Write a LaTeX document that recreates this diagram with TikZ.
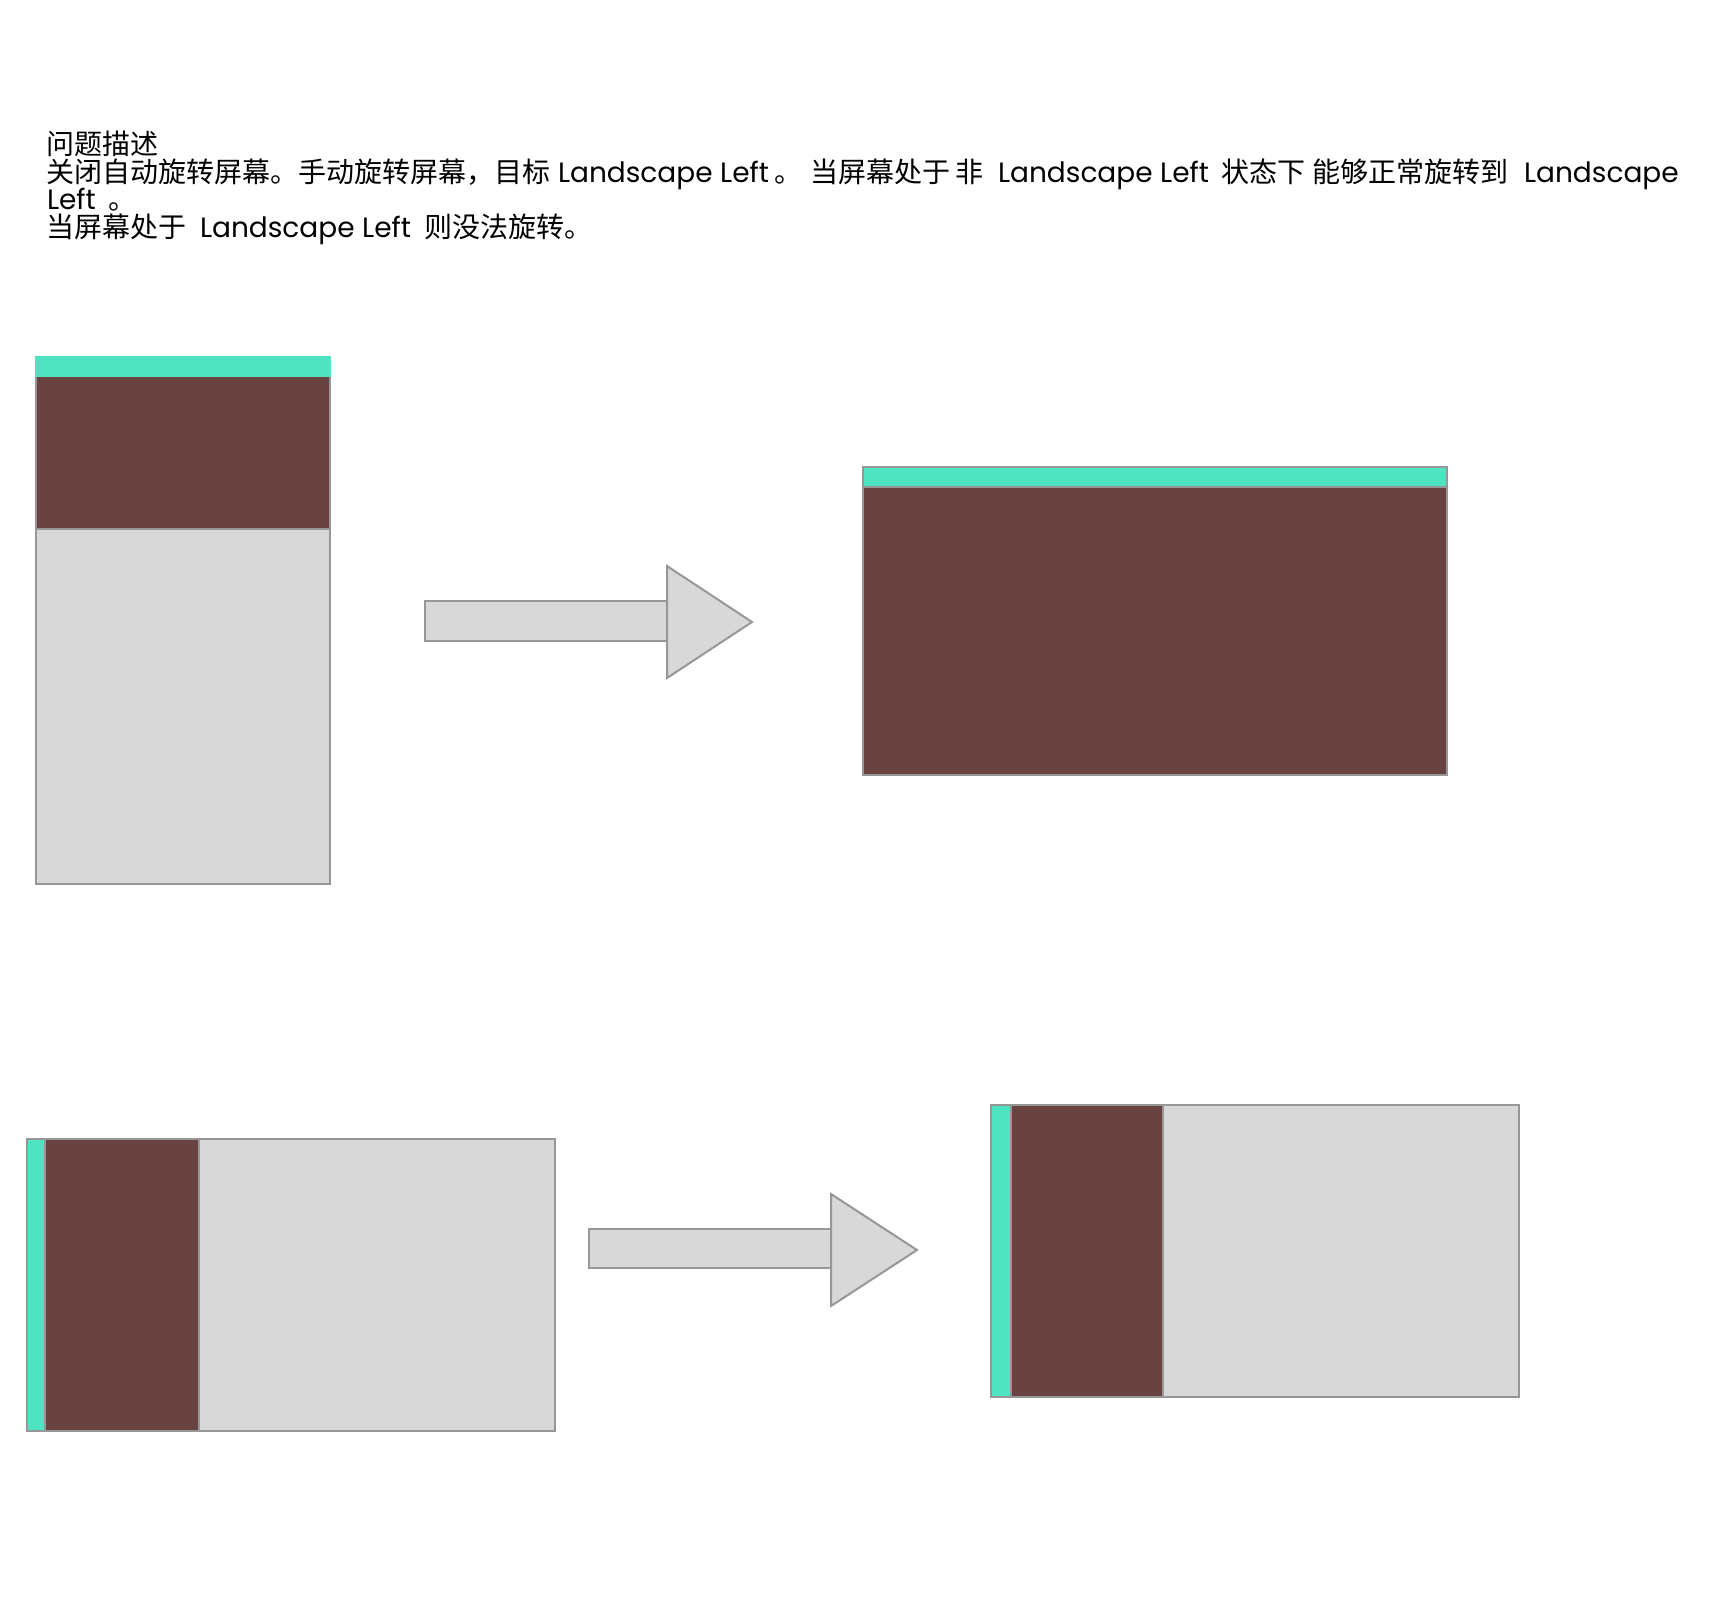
\documentclass[tikz,border=0pt]{standalone}
\usepackage{fontspec}
\setmainfont{Poppins}
\newfontfamily\cjk{Noto Sans CJK SC}
\definecolor{teal}{HTML}{50E3C2}
\definecolor{brownfill}{HTML}{694242}
\definecolor{grayfill}{HTML}{D8D8D8}
\definecolor{graystroke}{HTML}{979797}
\begin{document}
\begin{tikzpicture}[x=1pt,y=-1pt,
  txt/.style={anchor=base west,inner sep=0pt,outer sep=0pt,font=\fontsize{28}{28}\selectfont},
  edge/.style={draw=graystroke,line width=2pt},
  grayblk/.style={edge,fill=grayfill},
  brownblk/.style={edge,fill=brownfill},
  tealblk/.style={edge,fill=teal},
  tealbare/.style={fill=teal},
  arrowpart/.style={edge,fill=grayfill,line join=miter}]
\useasboundingbox[fill=white] (0,0) rectangle (1726,1596);

% text
\node[txt] (l1) at (46,154) {\cjk 问题描述};
\node[txt] (l2a) at (46,182) {\cjk 关闭自动旋转屏幕。手动旋转屏幕，目标};
\node[txt] (l2b) at (558,182) {Landscape Left};
\node[txt] (l2c) at (774,182) {\cjk 。};
\node[txt] (l2d) at (810,182) {\cjk 当屏幕处于};
\node[txt] (l2e) at (955,182) {\cjk 非};
\node[txt] (l2f) at (998,182) {Landscape Left};
\node[txt] (l2g) at (1221,182) {\cjk 状态下};
\node[txt] (l2h) at (1312,182) {\cjk 能够正常旋转到};
\node[txt] (l2i) at (1524,182) {Landscape};
\node[txt] (l3a) at (47,209) {Left};
\node[txt] (l3b) at (108,209) {\cjk 。};
\node[txt] (l4a) at (46,237) {\cjk 当屏幕处于};
\node[txt] (l4b) at (200,237) {Landscape Left};
\node[txt] (l4c) at (424,237) {\cjk 则没法旋转。};

% phone 1 (portrait)
\draw[grayblk] (36,376) rectangle (330,884);
\draw[brownblk] (36,376) rectangle (330,529);
\fill[tealbare] (35,356) rectangle (331,377);

% arrow 1
\draw[arrowpart] (425,601) rectangle (667,641);
\draw[arrowpart] (667,566) -- (752,622) -- (667,678) -- cycle;

% phone 2 (landscape result)
\draw[brownblk] (863,487) rectangle (1447,775);
\draw[tealblk] (863,467) rectangle (1447,487);

% phone 3 (bottom left)
\draw[grayblk] (199,1139) rectangle (555,1431);
\draw[brownblk] (45,1139) rectangle (199,1431);
\draw[tealblk] (27,1139) rectangle (45,1431);

% arrow 2
\draw[arrowpart] (589,1229) rectangle (831,1268);
\draw[arrowpart] (831,1194) -- (917,1250) -- (831,1306) -- cycle;

% phone 4 (bottom right)
\draw[grayblk] (1163,1105) rectangle (1519,1397);
\draw[brownblk] (1011,1105) rectangle (1163,1397);
\draw[tealblk] (991,1105) rectangle (1011,1397);
\end{tikzpicture}
\end{document}
